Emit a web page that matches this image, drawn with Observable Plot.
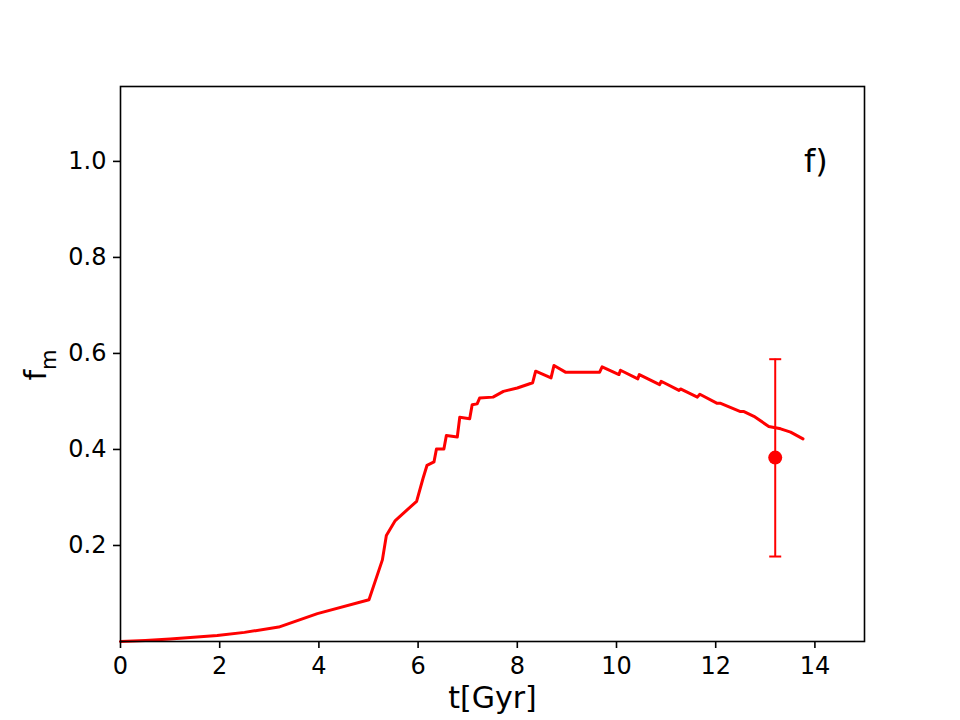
<!DOCTYPE html>
<html><head><meta charset="utf-8">
<script src="https://cdn.jsdelivr.net/npm/d3@7"></script>
<script src="https://cdn.jsdelivr.net/npm/@observablehq/plot@0.6"></script>
<style>body{margin:0;background:#fff;}</style>
</head><body><div id="chart"></div>
<script>
// Model curve: time (Gyr) and f_m
const tGyr = [0, 0.5, 1.0, 1.95, 2.5, 3.19, 3.97, 5.01, 5.28, 5.36, 5.54, 5.97, 6.1, 6.18, 6.32, 6.37, 6.52, 6.57, 6.79, 6.84, 7.04, 7.09, 7.19, 7.24, 7.51, 7.72, 8.00, 8.31, 8.37, 8.68, 8.74, 8.97, 9.66, 9.71, 10.05, 10.08, 10.43, 10.46, 10.87, 10.90, 11.26, 11.29, 11.63, 11.68, 12.03, 12.10, 12.50, 12.57, 12.77, 13.07, 13.31, 13.51, 13.76];
const fm   = [0.0, 0.002, 0.005, 0.0125, 0.019, 0.030, 0.058, 0.087, 0.170, 0.221, 0.252, 0.292, 0.340, 0.367, 0.374, 0.401, 0.401, 0.429, 0.426, 0.467, 0.464, 0.493, 0.495, 0.507, 0.509, 0.521, 0.528, 0.539, 0.563, 0.549, 0.575, 0.561, 0.561, 0.572, 0.556, 0.565, 0.547, 0.556, 0.535, 0.542, 0.523, 0.526, 0.509, 0.515, 0.496, 0.496, 0.479, 0.479, 0.469, 0.448, 0.443, 0.436, 0.422];

// Observed point with error bar
const obsT = [13.2];
const obsFm = [0.383];
const obsLo = [0.177];
const obsHi = [0.588];

// Panel label
const panelText = ["f)"];
const panelX = [14];
const panelY = [1.0];

// Ticks
const xTicks = [0, 2, 4, 6, 8, 10, 12, 14];
const yTicks = [0.2, 0.4, 0.6, 0.8, 1.0];
const xLabel = "t[Gyr]";

const series = tGyr.map((t, i) => ({t, f: fm[i]}));
const obs = obsT.map((t, i) => ({t, f: obsFm[i], lo: obsLo[i], hi: obsHi[i]}));
const panel = panelText.map((s, i) => ({s, x: panelX[i], y: panelY[i]}));

const capSymbol = {draw(ctx) { ctx.moveTo(-6, 0); ctx.lineTo(6, 0); }};

const plot = Plot.plot({
  width: 960, height: 720,
  marginLeft: 120, marginRight: 96, marginTop: 86, marginBottom: 79,
  style: {fontFamily: "DejaVu Sans", fontSize: "24px", color: "#000", background: "#fff"},
  x: {domain: [0, 15]},
  y: {domain: [0, 1.156]},
  marks: [
    Plot.line(series, {x: "t", y: "f", stroke: "red", strokeWidth: 3}),
    Plot.ruleX(obs, {x: "t", y1: "lo", y2: "hi", stroke: "red", strokeWidth: 2}),
    Plot.dot(obs, {x: "t", y: "lo", symbol: capSymbol, stroke: "red", strokeWidth: 2, fill: "none"}),
    Plot.dot(obs, {x: "t", y: "hi", symbol: capSymbol, stroke: "red", strokeWidth: 2, fill: "none"}),
    Plot.dot(obs, {x: "t", y: "f", r: 7, fill: "red", stroke: "none"}),
    Plot.text(panel, {x: "x", y: "y", text: "s", fontSize: 32, fill: "#000", dx: 1}),
    Plot.axisX({ticks: xTicks, tickSize: 7, tickPadding: 8, label: null, strokeWidth: 1.6, fontSize: 24}),
    Plot.axisY({ticks: yTicks, tickSize: 7, tickPadding: 7, label: null, strokeWidth: 1.6, fontSize: 24, tickFormat: d3.format(".1f")}),
    Plot.text([xLabel], {frameAnchor: "bottom", dy: 66, fontSize: 30, fill: "#000"}),
    Plot.frame({stroke: "#000", strokeWidth: 1.6})
  ]
});

const svg = d3.select(plot);
const lab = svg.append("text")
  .attr("transform", "translate(46,365) rotate(-90)")
  .attr("text-anchor", "middle")
  .attr("font-family", "DejaVu Sans")
  .attr("font-size", 30)
  .attr("fill", "#000");
lab.append("tspan").text("f");
lab.append("tspan").attr("font-size", 21).attr("dy", 10).text("m");

document.getElementById("chart").appendChild(plot);
</script>
</body></html>
